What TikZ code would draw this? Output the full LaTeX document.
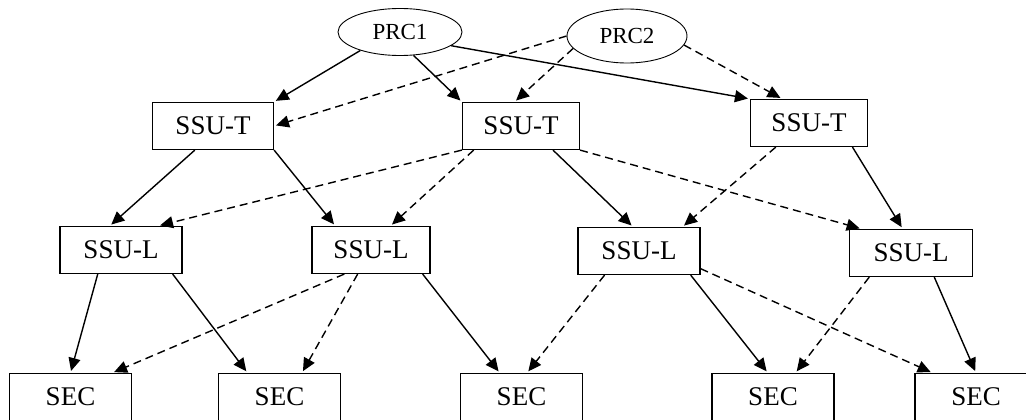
\documentclass[tikz,border=0pt]{standalone}
\usepackage{fontspec}
\setmainfont{Liberation Serif}
\usetikzlibrary{arrows.meta,shapes.geometric}

\begin{document}
\begin{tikzpicture}[x=1pt,y=-1pt]
		\tikzstyle{every node}+=[inner sep=0pt]
		\tikzstyle{unit}=[draw, line width=1.2pt, minimum width=119pt, minimum height=47pt, font=\fontsize{27}{30}\selectfont]
		\tikzstyle{prc}=[draw, ellipse, line width=0.9pt, minimum width=124pt, minimum height=47pt, font=\fontsize{23}{26}\selectfont]
		\tikzstyle{link}=[line width=1.4pt, -{Triangle[length=13pt,width=12pt]}, shorten >=2pt]
		\tikzstyle{alt}=[link, dash pattern=on 8pt off 5pt]
		\useasboundingbox (0,0) rectangle (1026,420);
		\clip (0,0) rectangle (1026,420);
		\node [prc] (prcA) at (400,32) {PRC1};
		\node [prc, minimum width=120pt, minimum height=54pt] (prcB) at (627,36) {PRC2};
		\node [unit, minimum width=121pt] (tA) at (213,126) {SSU-T};
		\node [unit, minimum width=117pt] (tB) at (521,126) {SSU-T};
		\node [unit, minimum width=117pt] (tC) at (809,123) {SSU-T};
		\node [unit, minimum width=122pt] (lA) at (121,250) {SSU-L};
		\node [unit, minimum width=118pt] (lB) at (371,250) {SSU-L};
		\node [unit, minimum width=122pt] (lC) at (639,251) {SSU-L};
		\node [unit, minimum width=123pt] (lD) at (911,253) {SSU-L};
		\node [unit, minimum width=122pt] (secA) at (70.5,397) {SEC};
		\node [unit, minimum width=122pt] (secB) at (279.5,397) {SEC};
		\node [unit, minimum width=122pt] (secC) at (521.5,397) {SEC};
		\node [unit, minimum width=122pt] (secD) at (773,397) {SEC};
		\node [unit, minimum width=122pt] (secE) at (976,397) {SEC};
		\draw [link] (prcA.205) -- (tA.north east);
		\draw [link] (prcA.300) -- (tB.north west);
		\draw [link] (prcA.345) -- (tC.north west);
		\draw [alt] (prcB.west) -- (tA.east);
		\draw [alt] (prcB.193) -- (tB.105);
		\draw [alt] (prcB.351) -- (tC.138);
		\draw [link] (tA.233) -- (lA.115);
		\draw [link] (tA.south east) -- (lB.146);
		\draw [alt] (tB.south west) -- (lA.33);
		\draw [alt] (tB.207) -- (lB.51);
		\draw [link] (tB.323) -- (lC.104);
		\draw [alt] (tB.south east) -- (lD.154);
		\draw [alt] (tC.216) -- (lC.29);
		\draw [link] (tC.331) -- (lD.109);
		\draw [link] (lA.226) -- (secA.north);
		\draw [link] (lA.335) -- (secB.143);
		\draw [alt] (lB.222) -- (secA.30);
		\draw [alt] (lB.241) -- (secB.47);
		\draw [link] (lB.335) -- (secC.132);
		\draw [alt] (lC.215) -- (secC.77);
		\draw [link] (lC.335) -- (secD.102);
		\draw [alt] (lC.344) -- (secE.151);
		\draw [alt] (lD.210) -- (secD.47);
		\draw [link] (lD.314) -- (secE.north);
	\end{tikzpicture}
\end{document}
